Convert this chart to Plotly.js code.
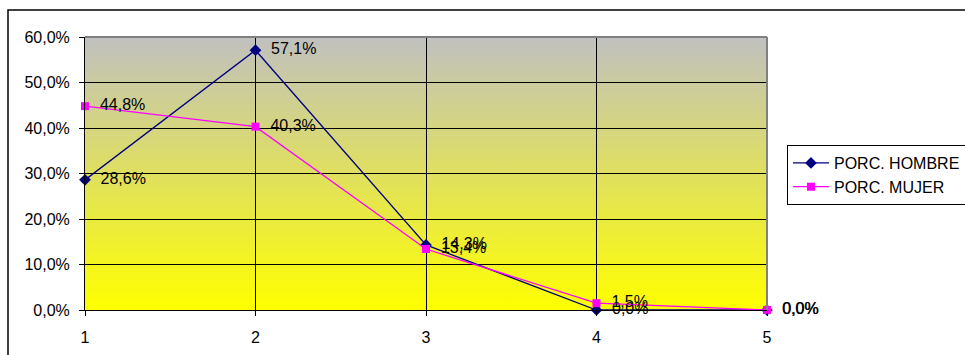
<!DOCTYPE html>
<html>
<head>
<meta charset="utf-8">
<script src="https://cdn.plot.ly/plotly-3.0.1.min.js"></script>
<style>
html,body{margin:0;padding:0;background:#fff;}
#chart{width:965px;height:355px;}
</style>
</head>
<body>
<div id="chart"></div>
<script>
const categories = [1, 2, 3, 4, 5];
const hombre = [0.286, 0.571, 0.143, 0.0, 0.0];
const mujer = [0.448, 0.403, 0.134, 0.015, 0.0];
const seriesNames = ['PORC. HOMBRE', 'PORC. MUJER'];
const yTicks = [0, 0.1, 0.2, 0.3, 0.4, 0.5, 0.6];

const gradSvg = '<svg xmlns="http://www.w3.org/2000/svg" width="10" height="100" preserveAspectRatio="none">' +
  '<defs><linearGradient id="g" x1="0" y1="0" x2="0" y2="1">' +
  '<stop offset="0" stop-color="#c0c0c0"/><stop offset="1" stop-color="#ffff00"/>' +
  '</linearGradient></defs><rect width="10" height="100" fill="url(#g)"/></svg>';
const gradUri = 'data:image/svg+xml;base64,' + btoa(gradSvg);

const font = {family: 'Liberation Sans, Arial, sans-serif', size: 16, color: '#000'};

const traces = [
  {
    x: categories, y: hombre, name: seriesNames[0], type: 'scatter', mode: 'lines+markers+text',
    line: {color: '#000080', width: 1.3},
    marker: {symbol: 'diamond', size: 9, color: '#000080'},
    text: hombre, texttemplate: '  %{y:.1%}', textposition: 'middle right',
    textfont: font, cliponaxis: false
  },
  {
    x: categories, y: mujer, name: seriesNames[1], type: 'scatter', mode: 'lines+markers+text',
    line: {color: '#ff00ff', width: 1.3},
    marker: {symbol: 'square', size: 8, color: '#ff00ff'},
    text: mujer, texttemplate: '  %{y:.1%}', textposition: 'middle right',
    textfont: font, cliponaxis: false
  }
];

const layout = {
  width: 965, height: 355,
  margin: {l: 85, r: 198, t: 37, b: 45, autoexpand: false},
  paper_bgcolor: '#ffffff',
  plot_bgcolor: 'rgba(0,0,0,0)',
  separators: ',.',
  font: font,
  showlegend: true,
  legend: {
    xref: 'container', yref: 'container',
    x: 0.8155, y: 0.5915, xanchor: 'left', yanchor: 'top',
    bgcolor: '#ffffff', bordercolor: '#000', borderwidth: 1,
    font: {family: 'Liberation Sans, Arial, sans-serif', size: 16, color: '#000'},
    tracegroupgap: 0, itemwidth: 36
  },
  xaxis: {
    range: [1, 5], tickvals: categories, ticktext: categories.map(String),
    showgrid: true, gridcolor: '#000', gridwidth: 1,
    showline: true, linecolor: '#000', linewidth: 1,
    ticks: 'outside', ticklen: 5, tickcolor: '#000', ticklabelstandoff: 8,
    zeroline: false, fixedrange: true, tickfont: font
  },
  yaxis: {
    range: [0, 0.6], tickvals: yTicks, tickformat: '.1%',
    showgrid: true, gridcolor: '#000', gridwidth: 1,
    showline: true, linecolor: '#000', linewidth: 1,
    ticks: 'outside', ticklen: 5, tickcolor: '#000', ticklabelstandoff: 6,
    zeroline: false, fixedrange: true, tickfont: font
  },
  images: [{
    source: gradUri, xref: 'paper', yref: 'paper', x: 0, y: 1,
    sizex: 1, sizey: 1, sizing: 'stretch', layer: 'below',
    xanchor: 'left', yanchor: 'top'
  }],
  shapes: [
    {type: 'line', xref: 'paper', yref: 'paper', x0: 0, x1: 1, y0: 1, y1: 1,
     line: {color: '#808080', width: 2}, layer: 'above'},
    {type: 'line', xref: 'paper', yref: 'paper', x0: 1, x1: 1, y0: 0, y1: 1,
     line: {color: '#808080', width: 2}, layer: 'above'},
    {type: 'rect', xref: 'paper', yref: 'paper', x0: -0.1129, x1: 1.6, y0: -0.6, y1: 1.099,
     line: {color: '#000', width: 1.5}, fillcolor: 'rgba(0,0,0,0)', layer: 'below'}
  ]
};

Plotly.newPlot('chart', traces, layout, {displayModeBar: false, staticPlot: true});
</script>
</body>
</html>
